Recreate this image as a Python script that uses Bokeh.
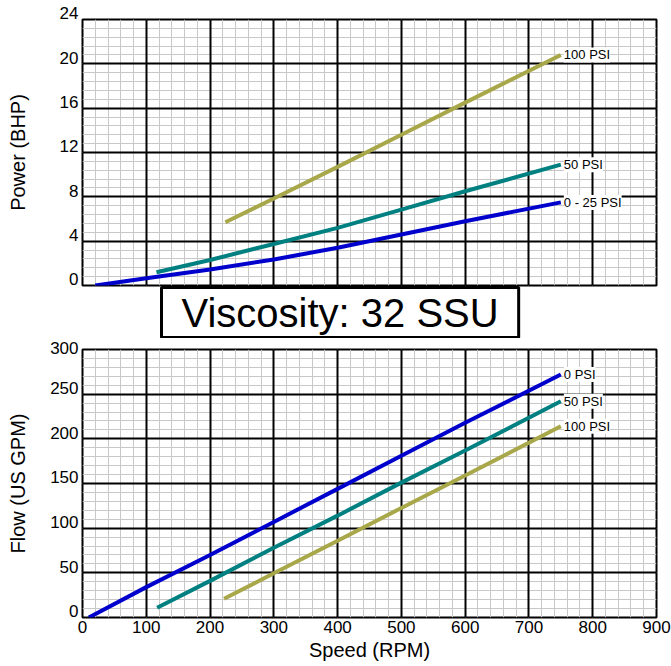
from bokeh.plotting import figure
from bokeh.models import Range1d, SingleIntervalTicker, LabelSet, ColumnDataSource, Title, Grid
from bokeh.layouts import column
from bokeh.embed import file_html
from bokeh.resources import INLINE
from bokeh.core.properties import value

# ---------------- data ----------------
# Power chart (Viscosity 32 SSU)
speed_p_025 = [20, 100, 200, 300, 400, 500, 600, 750]
power_025 = [0.0, 0.65, 1.45, 2.35, 3.4, 4.6, 5.8, 7.5]
speed_p_50 = [116, 200, 300, 400, 500, 600, 750]
power_50 = [1.2, 2.3, 3.75, 5.2, 6.85, 8.5, 10.9]
speed_p_100 = [224, 300, 400, 500, 600, 750]
power_100 = [5.7, 7.85, 10.7, 13.6, 16.5, 20.8]
power_names = ["0 - 25 PSI", "50 PSI", "100 PSI"]

# Flow chart
speed_f_0 = [10, 100, 200, 300, 400, 500, 600, 750]
flow_0 = [0, 34, 70, 107, 144, 181, 218, 272]
speed_f_50 = [117, 200, 300, 400, 500, 600, 750]
flow_50 = [11, 41, 78, 114, 151, 187, 242]
speed_f_100 = [222, 300, 400, 500, 600, 750]
flow_100 = [21, 49.5, 86, 122.6, 159, 214]
flow_names = ["0 PSI", "50 PSI", "100 PSI"]

power_ticks = [0, 4, 8, 12, 16, 20, 24]
flow_ticks = [0, 50, 100, 150, 200, 250, 300]

viscosity_text = "Viscosity: 32 SSU"

speed_range = (0, 900)
power_range = (0, 24)
flow_range = (0, 300)
speed_step, power_step, flow_step = 100, 4, 50

BLUE = "#0000CC"
TEAL = "#008080"
OLIVE = "#A8A84A"
FONT = "Liberation Sans"


def style(p, xstep, ystep, yticks):
    p.background_fill_color = "white"
    p.border_fill_color = "white"
    p.outline_line_color = "black"
    p.outline_line_width = 2
    xt = SingleIntervalTicker(interval=xstep, num_minor_ticks=5)
    yt = SingleIntervalTicker(interval=ystep, num_minor_ticks=5)
    p.xaxis.ticker = xt
    p.yaxis.ticker = yt
    for g in (p.xgrid, p.ygrid):
        g.grid_line_color = None
        g.minor_grid_line_color = "#C8C8C8"
        g.minor_grid_line_width = 1
    for dim, t in ((0, xt), (1, yt)):
        p.add_layout(Grid(dimension=dim, ticker=t, grid_line_color="black",
                          grid_line_width=2))
    for ax in (p.xaxis, p.yaxis):
        ax.axis_line_color = None
        ax.major_tick_line_color = None
        ax.minor_tick_line_color = None
        ax.major_tick_out = 0
        ax.major_tick_in = 0
        ax.minor_tick_out = 0
        ax.major_label_text_font = FONT
        ax.major_label_text_font_size = "17px"
        ax.major_label_text_color = "black"
        ax.axis_label_text_font = FONT
        ax.axis_label_text_font_size = "20px"
        ax.axis_label_text_font_style = "normal"
        ax.axis_label_text_color = "black"
    # tick labels of the value axis sit just above their grid line
    p.yaxis.major_label_overrides = {v: f"{v}\n" for v in yticks}
    p.yaxis.major_label_text_line_height = 0.6


# ---------------- top: power ----------------
p1 = figure(width=671, height=338, output_backend="svg", toolbar_location=None,
            x_range=Range1d(*speed_range), y_range=Range1d(*power_range),
            min_border_left=82, min_border_right=15, min_border_top=19,
            min_border_bottom=53)
style(p1, speed_step, power_step, power_ticks)
p1.xaxis.visible = False
p1.yaxis.axis_label = "Power (BHP)"
p1.yaxis.major_label_standoff = 4
p1.yaxis.axis_label_standoff = 28

p1.line(speed_p_025, power_025, line_color=BLUE, line_width=4)
p1.line(speed_p_50, power_50, line_color=TEAL, line_width=4)
p1.line(speed_p_100, power_100, line_color=OLIVE, line_width=4)

src1 = ColumnDataSource(dict(x=[speed_p_025[-1], speed_p_50[-1], speed_p_100[-1]],
                             y=[power_025[-1], power_50[-1], power_100[-1]],
                             t=power_names))
p1.add_layout(LabelSet(x="x", y="y", text="t", source=src1, x_offset=3,
                       text_baseline="middle", text_font=value(FONT),
                       text_font_size="13px", text_color="black",
                       background_fill_color="white"))

p1.add_layout(Title(text=viscosity_text, align="left", offset=79,
                    standoff=0,
                    text_font=FONT, text_font_size="40px", text_color="black",
                    text_font_style="normal",
                    background_fill_color="white", border_line_color="black",
                    border_line_width=3, padding=(20, 3)), "below")

# ---------------- bottom: flow ----------------
p2 = figure(width=671, height=326, output_backend="svg", toolbar_location=None,
            x_range=Range1d(*speed_range), y_range=Range1d(*flow_range),
            min_border_left=82, min_border_right=15, min_border_top=11,
            min_border_bottom=47)
style(p2, speed_step, flow_step, flow_ticks)
p2.xaxis.axis_label = "Speed (RPM)"
p2.yaxis.axis_label = "Flow (US GPM)"
p2.yaxis.major_label_standoff = 4
p2.yaxis.axis_label_standoff = 18
p2.xaxis.major_label_standoff = 3
p2.xaxis.axis_label_standoff = 3

p2.line(speed_f_0, flow_0, line_color=BLUE, line_width=4)
p2.line(speed_f_50, flow_50, line_color=TEAL, line_width=4)
p2.line(speed_f_100, flow_100, line_color=OLIVE, line_width=4)

src2 = ColumnDataSource(dict(x=[speed_f_0[-1], speed_f_50[-1], speed_f_100[-1]],
                             y=[flow_0[-1], flow_50[-1], flow_100[-1]],
                             t=flow_names))
p2.add_layout(LabelSet(x="x", y="y", text="t", source=src2, x_offset=3,
                       text_baseline="middle", text_font=value(FONT),
                       text_font_size="13px", text_color="black",
                       background_fill_color="white"))

layout = column(p1, p2, spacing=0)
open("out.html", "w").write(file_html(layout, INLINE))
